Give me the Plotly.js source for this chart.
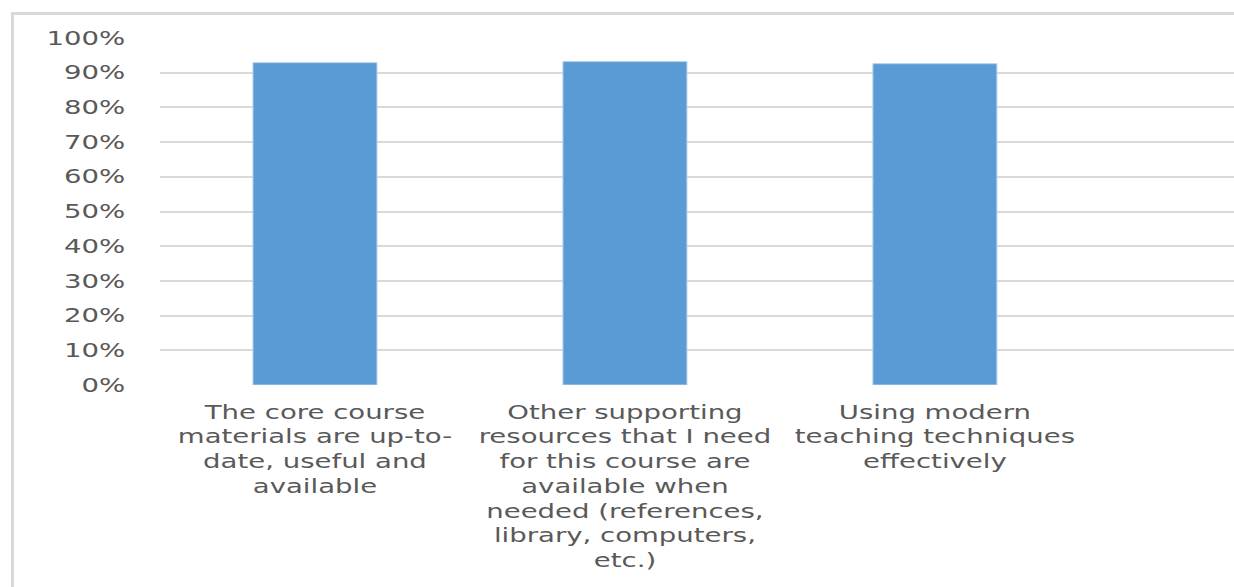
<!DOCTYPE html>
<html>
<head>
<meta charset="utf-8">
<script src="https://cdn.plot.ly/plotly-3.0.1.min.js"></script>
<style>
  html, body { margin: 0; padding: 0; background: #fff; }
  #chart { width: 1234px; height: 587px; }
  #frame { position: absolute; left: 11px; top: 12px; width: 1230px; height: 580px;
           border-left: 3px solid #d9d9d9; border-top: 3px solid #d9d9d9; pointer-events: none; }
</style>
</head>
<body>
<div id="chart"></div>
<div id="frame"></div>
<script>
const categories = [
  "The core course<br>materials are up-to-<br>date, useful and<br>available",
  "Other supporting<br>resources that I need<br>for this course are<br>available when<br>needed (references,<br>library, computers,<br>etc.)",
  "Using modern<br>teaching techniques<br>effectively"
];
const values = [0.929, 0.932, 0.926];
const yTicks = [0, 0.1, 0.2, 0.3, 0.4, 0.5, 0.6, 0.7, 0.8, 0.9, 1.0];
const yTickLabels = ["0%", "10%", "20%", "30%", "40%", "50%", "60%", "70%", "80%", "90%", "100%"];

const trace = {
  type: 'bar',
  x: categories,
  y: values,
  width: 0.4,
  marker: { color: '#5b9bd5', line: { color: '#b4d0ee', width: 1 } },
  hoverinfo: 'skip'
};

const layout = {
  width: 1234, height: 587,
  margin: { l: 160, r: 0, t: 38, b: 202 },
  paper_bgcolor: '#ffffff',
  plot_bgcolor: '#ffffff',
  showlegend: false,
  font: { family: 'DejaVu Sans, sans-serif', size: 19, color: '#595959' },
  xaxis: {
    type: 'category',
    range: [-0.5, 2.965],
    showgrid: false,
    zeroline: false,
    showline: false,
    ticks: 'outside', ticklen: 10, tickcolor: 'rgba(0,0,0,0)',
    tickangle: 0,
    tickfont: { family: 'DejaVu Sans, sans-serif', size: 19, color: '#595959' }
  },
  yaxis: {
    range: [0, 1],
    tickvals: yTicks,
    ticktext: yTickLabels,
    showgrid: true,
    gridcolor: '#d9d9d9',
    gridwidth: 2,
    zeroline: false,
    showline: false,
    ticks: 'outside', ticklen: 30, tickcolor: 'rgba(0,0,0,0)',
    tickfont: { family: 'DejaVu Sans, sans-serif', size: 19, color: '#595959' }
  }
};

Plotly.newPlot('chart', [trace], layout, { staticPlot: true, displayModeBar: false }).then(function (gd) {
  // The reference's labels are horizontally stretched; widen the real text glyphs.
  const stretch = 1.45;
  gd.querySelectorAll('.xtick text, .ytick text').forEach(function (t) {
    const x = parseFloat(t.getAttribute('x')) || 0;
    const prev = t.getAttribute('transform') || '';
    t.setAttribute('transform', prev + ' translate(' + x + ',0) scale(' + stretch + ',1) translate(' + (-x) + ',0)');
  });
});
</script>
</body>
</html>
